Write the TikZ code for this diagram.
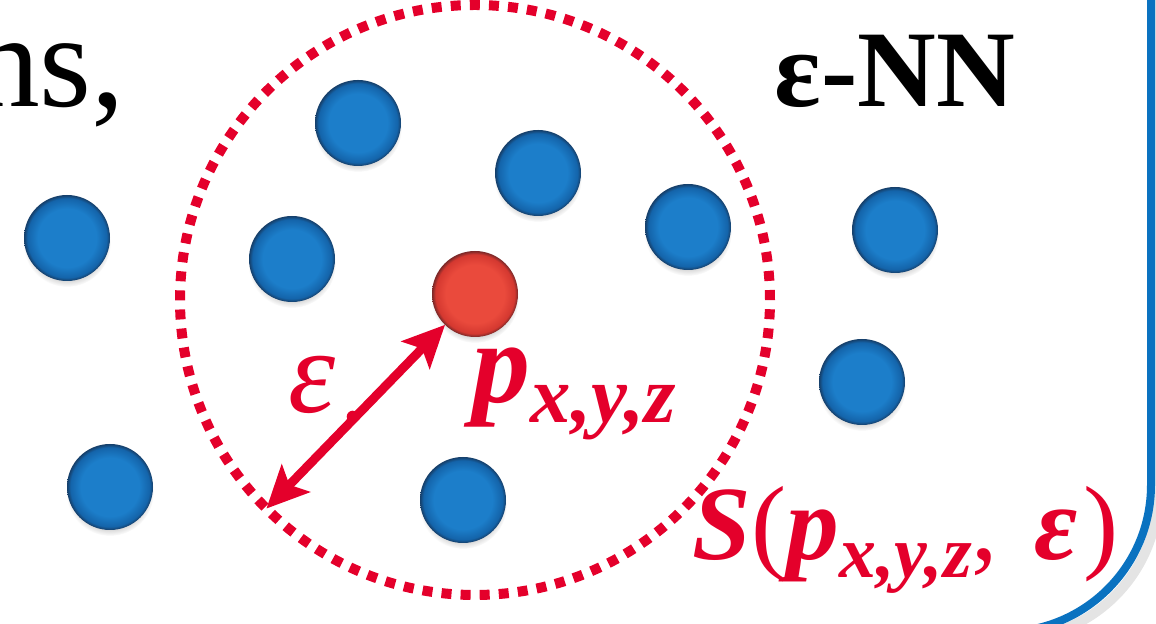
\documentclass[tikz,border=0pt]{standalone}
\usepackage{fontspec}
\setmainfont{Liberation Serif}
\usetikzlibrary{arrows.meta,shadows}
\definecolor{epsred}{RGB}{228,0,43}
\definecolor{ballblue}{RGB}{28,126,202}
\definecolor{ballbluedark}{RGB}{20,100,170}
\definecolor{ballbluerim}{RGB}{22,62,104}
\definecolor{ballred}{RGB}{234,74,60}
\definecolor{ballreddark}{RGB}{212,56,48}
\definecolor{ballredrim}{RGB}{120,40,40}
\definecolor{frameblue}{RGB}{10,114,192}
\pgfdeclareradialshading{bluedisc}{\pgfpoint{0bp}{0bp}}{color(0bp)=(ballblue); color(17bp)=(ballblue); color(23bp)=(ballbluedark); color(25bp)=(ballbluerim); color(50bp)=(ballbluerim)}
\pgfdeclareradialshading{reddisc}{\pgfpoint{0bp}{0bp}}{color(0bp)=(ballred); color(17bp)=(ballred); color(23bp)=(ballreddark); color(25bp)=(ballredrim); color(50bp)=(ballredrim)}
\newcommand{\subxyz}[1]{\raisebox{-0.17em}{\fontsize{#1}{#1}\selectfont x,y,z}}
\newcommand{\rmpart}[1]{{\mdseries\upshape #1}}
\begin{document}
\begin{tikzpicture}[x=0.1mm,y=-0.1mm,
  ballbase/.style={circle, minimum size=8.6mm, inner sep=0pt, outer sep=0pt, shade,
    circular drop shadow={shadow xshift=0pt, shadow yshift=-0.5mm, opacity=0.3, shadow scale=1.02}},
  blueball/.style={ballbase, shading=bluedisc},
  redball/.style={ballbase, shading=reddisc},
  dotcircle/.style={circle, draw=epsred, line width=1mm, dash pattern=on 1mm off 0.911mm,
    minimum size=59mm, inner sep=0pt, outer sep=0pt},
  epsarrow/.style={draw=epsred, line width=0.9mm,
    {Stealth[length=4.2mm,width=3.9mm,inset=0.9mm]}-{Stealth[length=4.2mm,width=3.9mm,inset=0.9mm]}},
  redlabel/.style={text=epsred, inner sep=0pt},
  blacklabel/.style={text=black, inner sep=0pt},
  framestyle/.style={draw=frameblue, line width=0.8mm, rounded corners=14.7mm},
  frameshadow/.style={draw=black!30, line width=1mm, opacity=0.35, rounded corners=14.7mm}
]
\useasboundingbox (0,0) rectangle (1156,624);
\clip (0,0) rectangle (1156,624);
% frame
\draw[frameshadow] (-300,-300) rectangle (1158,639);
\draw[framestyle] (-300,-300) rectangle (1151,632);
% titles
\node[blacklabel, anchor=base east, font=\fontsize{38}{40}\selectfont] (ns) at (126,107) {ns,};
\node[blacklabel, anchor=base west, font=\bfseries\fontsize{31}{33}\selectfont] (enn) at (774,107) {ε-NN};
% dotted neighbourhood
\node[dotcircle] (S) at (475,300) {};
% points
\node[blueball] (b1) at (358,123) {};
\node[blueball] (b2) at (538,173) {};
\node[blueball] (b3) at (67,238) {};
\node[blueball] (b4) at (292,259) {};
\node[blueball] (b5) at (688,227) {};
\node[blueball] (b6) at (895,230) {};
\node[blueball] (b7) at (862,382) {};
\node[blueball] (b8) at (110,487) {};
\node[blueball] (b9) at (463,500) {};
\node[redball] (R) at (475,294) {};
% radius arrow
\draw[epsarrow] (R) -- node[pos=0.5, xshift=-0.3mm, circle, fill=epsred, inner sep=0pt, minimum size=1.2mm] (mid) {} (S.225);
% labels
\node[redlabel, anchor=base, font=\itshape\fontsize{34}{36}\selectfont] (elbl) at (312,413) {ε};
\node[redlabel, anchor=base west, font=\bfseries\itshape\fontsize{33}{35}\selectfont] (plbl) at (472,403) {p\subxyz{23}};
\node[redlabel, anchor=base west, font=\bfseries\itshape\fontsize{30}{32}\selectfont] (slbl) at (692,560) {S\rmpart{(}p\subxyz{21}\rmpart{,}\hspace{0.35em}ε\hspace{0.05em}\rmpart{)}};
\end{tikzpicture}
\end{document}
